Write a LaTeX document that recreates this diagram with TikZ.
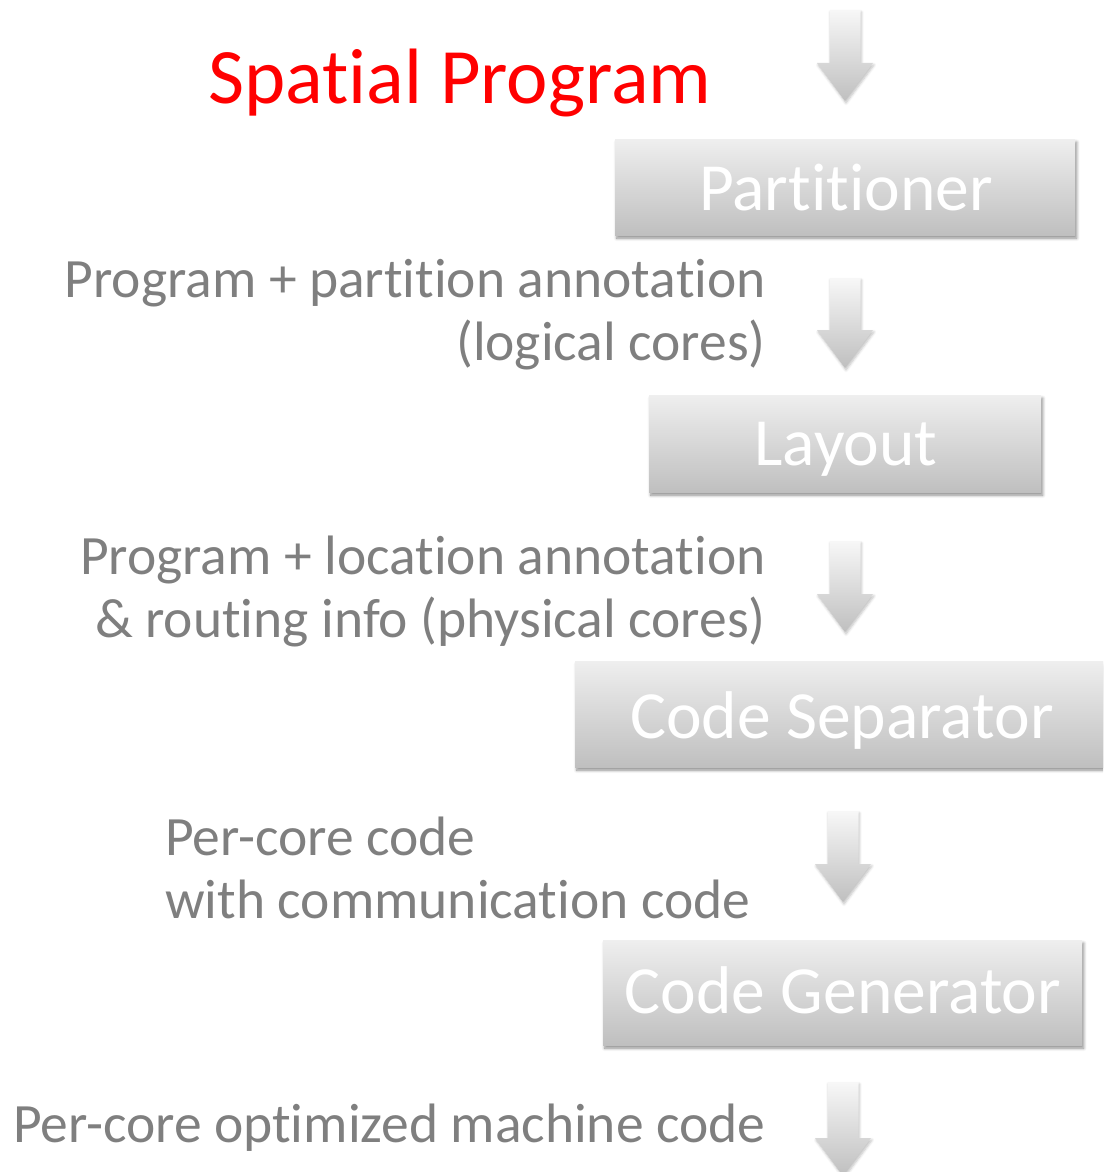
\documentclass[tikz,border=0pt]{standalone}
\usepackage{fontspec}
\setmainfont{Carlito}[Ligatures=NoCommon]
\usetikzlibrary{shadows.blur}
\definecolor{labelgray}{HTML}{7F7F7F}
\definecolor{titlered}{HTML}{FF0000}
\tikzset{
  stage/.style={draw=none, rectangle, anchor=north west, inner sep=0pt,
    top color=gray!13, bottom color=gray!50,
    blur shadow={shadow xshift=1.5pt, shadow yshift=-3pt, shadow blur radius=3pt,
      shadow blur steps=6, shadow opacity=45}},
  stagetext/.style={text=white, inner sep=0pt, anchor=base, font=\fontsize{67.5}{67.5}\selectfont},
  flowarrow/.style={top color=gray!6, bottom color=gray!50, draw=none,
    blur shadow={shadow xshift=1pt, shadow yshift=-2pt, shadow blur radius=2.5pt,
      shadow blur steps=5, shadow opacity=25}},
  lbl/.style={text=labelgray, inner sep=0pt, font=\fontsize{55.5}{64}\selectfont}
}
% block arrow pointing down: centre x, top y, tip y
\newcommand\blockdown[3]{%
  \path[flowarrow] (#1-15.5,#2) -- (#1+15.5,#2) -- (#1+15.5,#3-38) -- (#1+28,#3-38)
    -- (#1,#3) -- (#1-28,#3-38) -- (#1-15.5,#3-38) -- cycle;}
\begin{document}
\begin{tikzpicture}[x=1pt,y=-1pt]
\useasboundingbox (0,0) rectangle (1103,1172);
\clip (0,0) rectangle (1103,1172);

% title
\node[anchor=base, text=titlered, inner sep=0pt, font=\fontsize{78.5}{78.5}\selectfont] (title) at (460,103) {Spatial Program};

% arrows between the stages
\blockdown{845}{10}{101}
\blockdown{845}{278}{368}
\blockdown{845}{541}{632}
\blockdown{843}{811}{902}
\blockdown{843}{1082}{1176}

% stages
\node[stage, minimum width=460, minimum height=96] (part) at (615,139) {};
\node[stagetext] (partt) at (846,210) {Partitioner};

\node[stage, minimum width=392, minimum height=97] (lay) at (649,395) {};
\node[stagetext] (layt) at (846,465) {Layout};

\node[stage, minimum width=540, minimum height=106] (sep) at (575,661) {};
\node[stagetext] (sept) at (842,738) {Code Separator};

\node[stage, minimum width=479, minimum height=105] (gen) at (603,940) {};
\node[stagetext] (gent) at (843,1013) {Code Generator};

% intermediate representations
\node[lbl, anchor=base east] (l1a) at (766,297) {Program + partition annotation};
\node[lbl, anchor=base east] (l1b) at (766,360) {(logical cores)};
\node[lbl, anchor=base east] (l2a) at (766,574) {Program + location annotation};
\node[lbl, anchor=base east] (l2b) at (766,637) {\& routing info (physical cores)};
\node[lbl, anchor=base west] (l3a) at (165,855) {Per-core code};
\node[lbl, anchor=base west] (l3b) at (165,918) {with communication code};
\node[lbl, anchor=base west] (l4) at (13,1142) {Per-core optimized machine code};
\end{tikzpicture}
\end{document}
